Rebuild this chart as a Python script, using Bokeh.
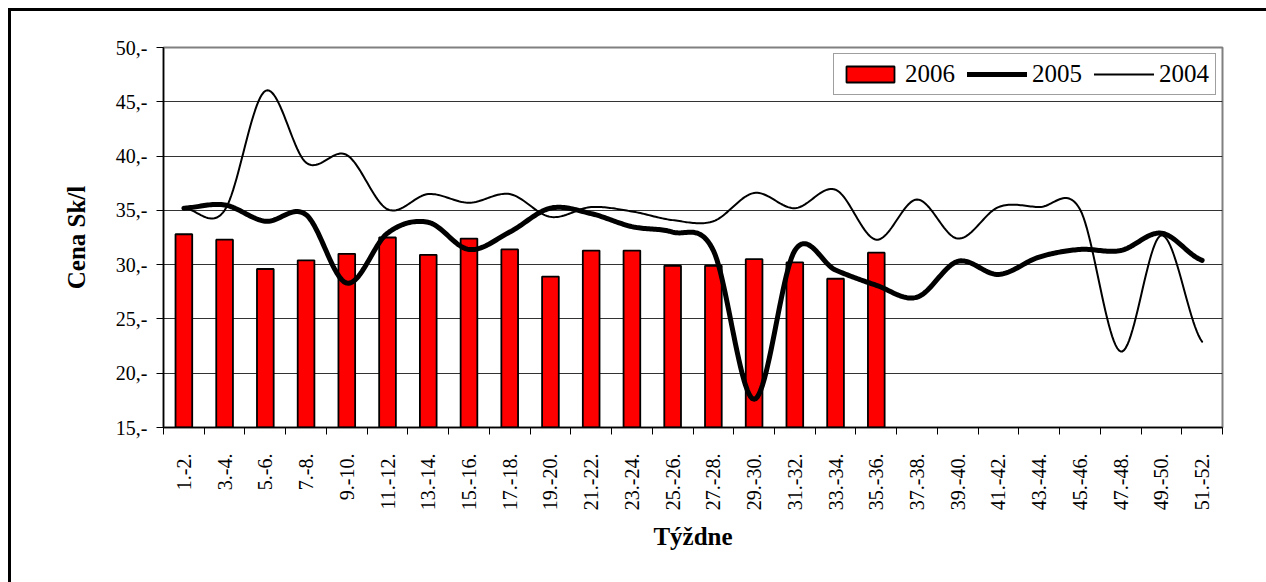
import math
import numpy as np
from bokeh.plotting import figure
from bokeh.models import Range1d, FixedTicker, Legend, GlobalInlineStyleSheet
from bokeh.embed import file_html
from bokeh.resources import INLINE

weeks = ["1.-2.", "3.-4.", "5.-6.", "7.-8.", "9.-10.", "11.-12.", "13.-14.", "15.-16.",
         "17.-18.", "19.-20.", "21.-22.", "23.-24.", "25.-26.", "27.-28.", "29.-30.",
         "31.-32.", "33.-34.", "35.-36.", "37.-38.", "39.-40.", "41.-42.", "43.-44.",
         "45.-46.", "47.-48.", "49.-50.", "51.-52."]

price_2006 = [32.8, 32.3, 29.6, 30.4, 31.0, 32.5, 30.9, 32.4, 31.4, 28.9, 31.3, 31.3,
              29.9, 29.9, 30.5, 30.2, 28.7, 31.1]
price_2005 = [35.2, 35.5, 34.0, 34.6, 28.3, 32.9, 33.9, 31.4, 33.0, 35.2, 34.7, 33.5,
              33.0, 31.3, 17.6, 31.3, 29.5, 28.1, 27.0, 30.3, 29.1, 30.7, 31.4, 31.3,
              32.9, 30.4]
price_2004 = [35.2, 35.0, 46.0, 39.4, 40.1, 35.1, 36.5, 35.7, 36.5, 34.4, 35.3, 34.9,
              34.1, 34.0, 36.6, 35.2, 36.9, 32.3, 36.0, 32.4, 35.3, 35.3, 35.1, 22.0,
              32.7, 22.9]
y_ticks = [15, 20, 25, 30, 35, 40, 45, 50]

FONT = "Liberation Serif"


def smooth(vals, n=24):
    """Catmull-Rom curve through the points (rendering of a smoothed line)."""
    P = list(vals)
    N = len(P)
    xs, ys = [], []
    for i in range(N - 1):
        p0 = P[max(i - 1, 0)]
        p1 = P[i]
        p2 = P[i + 1]
        p3 = P[min(i + 2, N - 1)]
        t = np.linspace(0, 1, n, endpoint=(i == N - 2))
        y = 0.5 * (2 * p1 + (-p0 + p2) * t + (2 * p0 - 5 * p1 + 4 * p2 - p3) * t ** 2
                   + (-p0 + 3 * p1 - 3 * p2 + p3) * t ** 3)
        xs.extend(list(i + 0.5 + t))
        ys.extend(list(y))
    return xs, ys


W, H = 1262, 578
p = figure(width=W, height=H, output_backend="svg", toolbar_location=None,
           x_range=Range1d(0, len(weeks)), y_range=Range1d(15, 50),
           min_border_left=152, min_border_right=W - 1211,
           min_border_top=36, min_border_bottom=H - 416)
p.styles = {"margin-left": "11px", "margin-top": "11px",
            "box-shadow": "-3px -3px 0px 0px black"}
p.stylesheets = [GlobalInlineStyleSheet(css="html, body { overflow: hidden; }")]

p.background_fill_color = "white"
p.border_fill_color = "white"
p.outline_line_color = "#808080"
p.outline_line_width = 2

# grid
p.xgrid.grid_line_color = None
p.ygrid.ticker = FixedTicker(ticks=y_ticks)
p.ygrid.grid_line_color = "#000000"
p.ygrid.grid_line_alpha = 0.8
p.ygrid.grid_line_width = 1

# bars 2006
xb = [i + 0.5 for i in range(len(price_2006))]
r_bar = p.vbar(x=xb, top=price_2006, bottom=15, width=0.41,
               fill_color="#FF0000", line_color="black", line_width=1.8)

# lines
x5, y5 = smooth(price_2005)
r05 = p.line(x5, y5, line_color="black", line_width=5, line_join="round", line_cap="round")
x4, y4 = smooth(price_2004)
r04 = p.line(x4, y4, line_color="black", line_width=2, line_join="round", line_cap="round")

# y axis
yax = p.yaxis[0]
yax.ticker = FixedTicker(ticks=y_ticks)
yax.major_label_overrides = {v: f"{v},-" for v in y_ticks}
yax.major_label_text_font = FONT
yax.major_label_text_font_size = "20px"
yax.major_label_text_color = "black"
yax.major_tick_in = 0
yax.major_tick_out = 7
yax.minor_tick_line_color = None
yax.axis_line_color = "black"
yax.axis_line_width = 1.5
yax.major_label_standoff = 9
yax.axis_label = "Cena Sk/l"
yax.axis_label_text_font = FONT
yax.axis_label_text_font_style = "bold"
yax.axis_label_text_font_size = "25px"
yax.axis_label_text_color = "black"
yax.axis_label_standoff = 23

# x axis
xax = p.xaxis[0]
centers = [i + 0.5 for i in range(len(weeks))]
xax.ticker = FixedTicker(ticks=centers, minor_ticks=list(range(len(weeks) + 1)))
xax.major_label_overrides = {c: w for c, w in zip(centers, weeks)}
xax.major_label_orientation = math.pi / 2
xax.major_label_text_font = FONT
xax.major_label_text_font_size = "20px"
xax.major_label_text_color = "black"
xax.major_tick_in = 0
xax.major_tick_out = 0
xax.minor_tick_in = 0
xax.minor_tick_out = 7
xax.minor_tick_line_color = "black"
xax.axis_line_color = "black"
xax.axis_line_width = 1.5
xax.major_label_standoff = 19
xax.axis_label = "Týždne"
xax.axis_label_text_font = FONT
xax.axis_label_text_font_style = "bold"
xax.axis_label_text_font_size = "25px"
xax.axis_label_text_color = "black"
xax.axis_label_standoff = 10

legend = Legend(items=[("2006", [r_bar]), ("2005", [r05]), ("2004", [r04])],
                orientation="horizontal", location="top_right")
legend.label_text_font = FONT
legend.label_text_font_size = "25px"
legend.label_text_color = "black"
legend.glyph_width = 60
legend.glyph_height = 20
legend.label_standoff = 5
legend.spacing = 12
legend.padding = 6
legend.margin = 6
legend.border_line_color = "#404040"
legend.border_line_width = 1.5
legend.background_fill_color = "white"
legend.background_fill_alpha = 1
p.add_layout(legend)

open("out.html", "w").write(file_html(p, INLINE))
